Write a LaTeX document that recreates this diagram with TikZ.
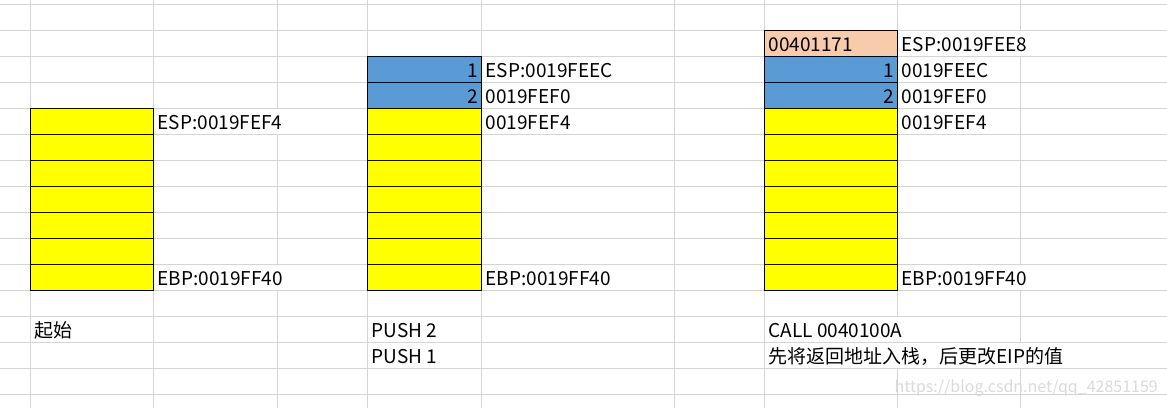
\documentclass[tikz,border=0pt]{standalone}
\usepackage{fontspec}
\setmainfont{Noto Sans CJK SC}
\definecolor{gridgray}{HTML}{D4D4D4}
\definecolor{slotyellow}{HTML}{FFFF00}
\definecolor{pushblue}{HTML}{5B9BD5}
\definecolor{retsalmon}{HTML}{F8CBAD}
\definecolor{markgray}{HTML}{DADADA}
\begin{document}
\begin{tikzpicture}[x=1pt, y=-1pt, font=\fontsize{19}{22}\selectfont,
    grid/.style={gridgray, line width=1.3pt},
    cell/.style={draw=black, line width=0.9pt, rectangle, anchor=north west,
        minimum height=26pt, inner sep=0pt, outer sep=0pt},
    lbl/.style={anchor=base west, inner sep=0pt},
    num/.style={anchor=base east, inner sep=0pt}]
\useasboundingbox[fill=white] (0,0) rectangle (1167,408);
% sheet grid
\foreach \y in {4.3,30.3,...,395}
{
    \draw[grid] (0,\y)--(1167,\y);
}
\foreach \x in {30.7,153.7,367.7,481.7,674.3,764.3}
{
    \draw[grid] (\x,0)--(\x,408);
}
\draw[grid] (277.3,0)--(277.3,108.3) (277.3,134.3)--(277.3,264.3) (277.3,290.3)--(277.3,408);
\draw[grid] (897.7,0)--(897.7,316.3) (897.7,368.3)--(897.7,408);
\draw[grid] (1020.3,0)--(1020.3,30.3) (1020.3,56.3)--(1020.3,264.3) (1020.3,290.3)--(1020.3,342.3) (1020.3,368.3)--(1020.3,408);

% stacks
\foreach \s/\x/\w in {a/30.7/123,b/367.7/114,c/764.3/133.4}
{
    \foreach \i in {0,...,6}
    {
        \node[cell, fill=slotyellow, minimum width=\w pt] (\s\i) at (\x,108.3+26*\i) {};
    }
}
\node[cell, fill=pushblue, minimum width=114pt] (bp2) at (367.7,82.3) {};
\node[cell, fill=pushblue, minimum width=114pt] (bp1) at (367.7,56.3) {};
\node[cell, fill=pushblue, minimum width=133.4pt] (cp2) at (764.3,82.3) {};
\node[cell, fill=pushblue, minimum width=133.4pt] (cp1) at (764.3,56.3) {};
\node[cell, fill=retsalmon, minimum width=133.4pt] (cret) at (764.3,30.3) {};

\node[num] (bn1) at (478.7,77.3) {1};
\node[num] (bn2) at (478.7,103.3) {2};
\node[num] (cn1) at (894.7,77.3) {1};
\node[num] (cn2) at (894.7,103.3) {2};
\node[lbl] (cretv) at (768.3,51.3) {00401171};

% addresses
\node[lbl] (aesp) at (157.5,129.3) {ESP:0019FEF4};
\node[lbl] (aebp) at (157.5,285.3) {EBP:0019FF40};
\node[lbl] (besp) at (485.5,77.3) {ESP:0019FEEC};
\node[lbl] (bf0) at (485.5,103.3) {0019FEF0};
\node[lbl] (bf4) at (485.5,129.3) {0019FEF4};
\node[lbl] (bebp) at (485.5,285.3) {EBP:0019FF40};
\node[lbl] (cesp) at (901.5,51.3) {ESP:0019FEE8};
\node[lbl] (cec) at (901.5,77.3) {0019FEEC};
\node[lbl] (cf0) at (901.5,103.3) {0019FEF0};
\node[lbl] (cf4) at (901.5,129.3) {0019FEF4};
\node[lbl] (cebp) at (901.5,285.3) {EBP:0019FF40};

% steps
\node[lbl] (astep) at (34.5,337.3) {起始};
\node[lbl] (bstep1) at (371.5,337.3) {PUSH 2};
\node[lbl] (bstep2) at (371.5,363.3) {PUSH 1};
\node[lbl] (cstep1) at (768.3,337.3) {CALL 0040100A};
\node[lbl] (cstep2) at (768.3,363.3) {先将返回地址入栈，后更改EIP的值};

\node[anchor=base east, inner sep=0pt, markgray, font=\fontsize{16}{18}\selectfont] (mark) at (1158,392) {https://blog.csdn.net/qq\_42851159};
\end{tikzpicture}
\end{document}
